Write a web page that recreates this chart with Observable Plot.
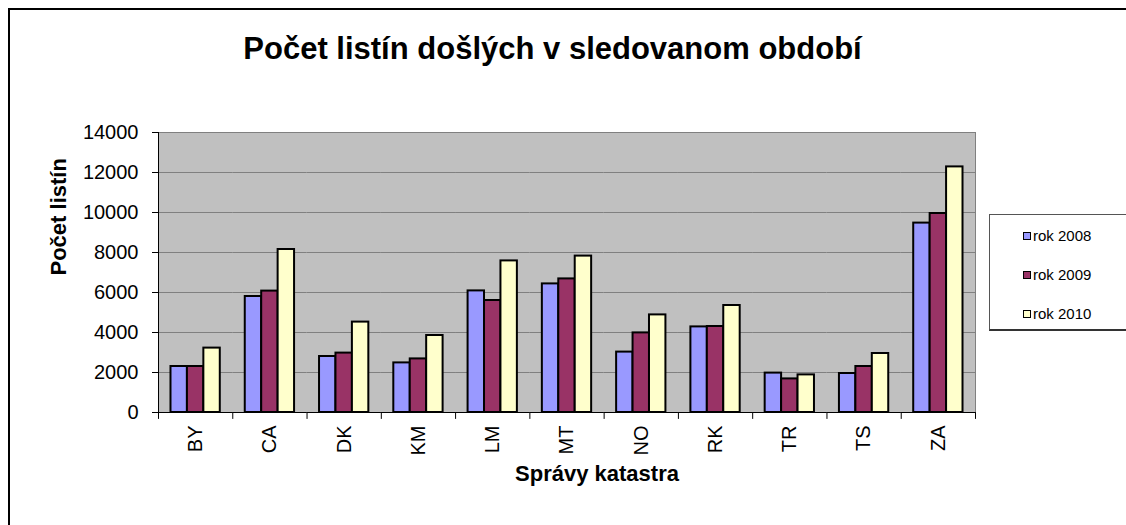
<!DOCTYPE html>
<html>
<head>
<meta charset="utf-8">
<script src="https://cdn.jsdelivr.net/npm/d3@7"></script>
<script src="https://cdn.jsdelivr.net/npm/@observablehq/plot@0.6"></script>
<style>
  html, body { margin: 0; padding: 0; background: #fff; }
  #wrap { position: relative; width: 1126px; height: 525px; overflow: hidden; background: #fff;
          font-family: "Liberation Sans", Arial, sans-serif; }
  #border { position: absolute; left: 8px; top: 8px; width: 1300px; height: 700px;
            border-left: 2px solid #000; border-top: 2px solid #000; box-sizing: border-box; }
  #title { position: absolute; left: 0; top: 33px; width: 1105px; text-align: center;
           font: bold 31px/31px "Liberation Sans", Arial, sans-serif; color: #000; }
  #chart { position: absolute; left: 0; top: 100px; }
  #legend { position: absolute; left: 989px; top: 214px; width: 170px; height: 117px;
            border: 1px solid #555; border-bottom: 2px solid #333; box-sizing: border-box;
            background: #fff; padding: 1px 0 0 33px; }
  .lg-swatches { display: flex !important; flex-direction: column; align-items: flex-start;
                 margin: 0 !important; min-height: 0 !important;
                 font: 15px "Liberation Sans", Arial, sans-serif !important; color: #000; }
  .lg-swatch { height: 39px; display: flex !important; align-items: center; margin: 0 !important; }
  .lg-swatch > svg { border: 1.5px solid #000; box-sizing: border-box; margin-right: 2px !important; }
</style>
</head>
<body>
<div id="wrap">
  <div id="border"></div>
  <div id="title">Počet listín došlých v sledovanom období</div>
  <div id="chart"></div>
  <div id="legend"></div>
</div>
<script>
// Categories (katastrálne správy)
const cats = ["BY", "CA", "DK", "KM", "LM", "MT", "NO", "RK", "TR", "TS", "ZA"];
// Series names
const years = ["rok 2008", "rok 2009", "rok 2010"];
// Series values
const v2008 = [2300, 5800, 2800, 2480, 6080, 6430, 3020, 4280, 1970, 1950, 9470];
const v2009 = [2300, 6070, 2970, 2680, 5600, 6680, 3980, 4300, 1680, 2300, 9950];
const v2010 = [3220, 8150, 4520, 3850, 7580, 7820, 4880, 5350, 1880, 2950, 12280];
// Y axis ticks
const yTicks = [0, 2000, 4000, 6000, 8000, 10000, 12000, 14000];
// Series colours
const colors = ["#9999FF", "#993366", "#FFFFCC"];
// Titles
const yTitle = "Počet listín";
const xTitle = "Správy katastra";

const series = [v2008, v2009, v2010];
const rows = [];
cats.forEach((c, i) => years.forEach((y, k) => rows.push({cat: c, year: y, value: series[k][i]})));

const tickShape = {draw(ctx, l) { ctx.moveTo(0, 0); ctx.lineTo(0, -l); }};

const chart = Plot.plot({
  width: 1126,
  height: 425,
  marginTop: 32,
  marginBottom: 113,
  marginLeft: 158,
  marginRight: 151,
  style: {fontFamily: "'Liberation Sans', Arial, sans-serif", fontSize: "20px", background: "transparent", color: "#000"},
  fx: {domain: cats, paddingInner: 0, paddingOuter: 0, round: false},
  x: {domain: years, paddingInner: 0, paddingOuter: 0.76, axis: null, round: false},
  y: {domain: [0, 14000]},
  color: {domain: years, range: colors},
  marks: [
    Plot.frame({facet: "super", fill: "#C0C0C0", stroke: "#808080"}),
    Plot.ruleY(yTicks.slice(1), {stroke: "#808080", strokeWidth: 1}),
    Plot.barY(rows, {fx: "cat", x: "year", y: "value", fill: "year", stroke: "#000", strokeWidth: 2}),
    Plot.ruleY([0], {stroke: "#000", strokeWidth: 1}),
    Plot.frame({facet: "super", anchor: "left", stroke: "#000"}),
    Plot.vector(cats, {fx: d => d, frameAnchor: "bottom-left", length: 6, rotate: 180, anchor: "start", shape: tickShape, stroke: "#000", strokeWidth: 1}),
    Plot.vector(cats.slice(-1), {fx: d => d, frameAnchor: "bottom-right", length: 6, rotate: 180, anchor: "start", shape: tickShape, stroke: "#000", strokeWidth: 1}),
    Plot.axisY({ticks: yTicks, tickFormat: "d", tickSize: 6, tickPadding: 14, fontSize: 20, label: null}),
    Plot.axisFx({anchor: "bottom", tickSize: 0, tickPadding: 13, tickRotate: -90, fontSize: 20, label: null}),
    Plot.text([yTitle], {facet: "super", frameAnchor: "left", rotate: -90, dx: -100, dy: 3, fontWeight: "bold", fontSize: 22}),
    Plot.text([xTitle], {facet: "super", frameAnchor: "bottom", dx: 30, dy: 68, fontWeight: "bold", fontSize: 22})
  ]
});
document.getElementById("chart").appendChild(chart);

const legend = chart.legend("color", {className: "lg", swatchWidth: 8, swatchHeight: 8});
document.getElementById("legend").appendChild(legend);
</script>
</body>
</html>
